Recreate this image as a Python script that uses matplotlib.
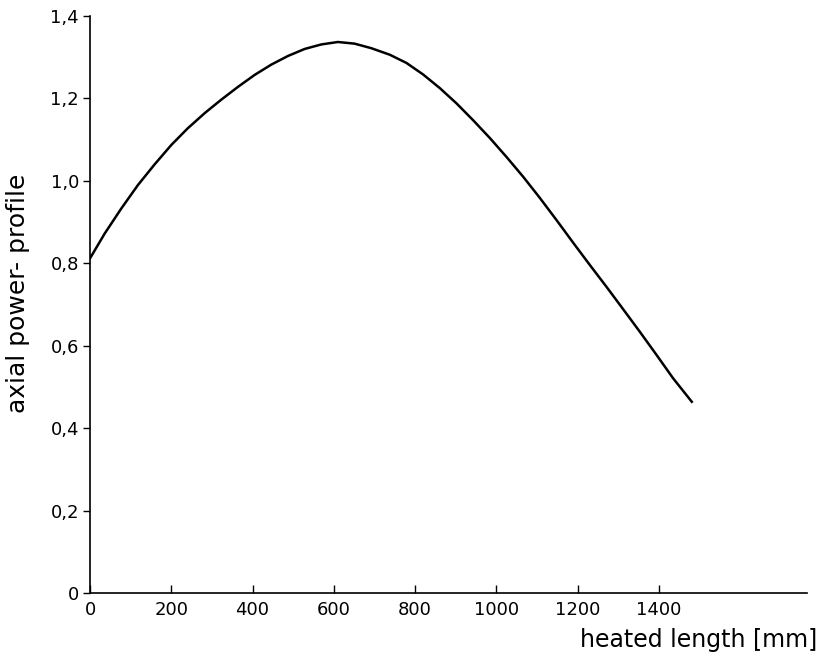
import numpy as np
import matplotlib.pyplot as plt

# values
length_mm = [0, 36, 77, 118, 159, 200, 241, 283, 323, 364, 405, 446, 487,
             528, 569, 610, 651, 692, 738, 779, 820, 861, 902, 943, 984,
             1025, 1066, 1106, 1148, 1189, 1230, 1271, 1311, 1353, 1394,
             1435, 1481]
power = [0.812, 0.872, 0.933, 0.990, 1.040, 1.087, 1.128, 1.165, 1.197,
         1.228, 1.257, 1.282, 1.303, 1.320, 1.331, 1.337, 1.333, 1.322,
         1.306, 1.286, 1.258, 1.225, 1.188, 1.147, 1.104, 1.058, 1.010,
         0.960, 0.905, 0.850, 0.796, 0.743, 0.690, 0.634, 0.578, 0.521,
         0.464]

xticks = [0, 200, 400, 600, 800, 1000, 1200, 1400]
yticks = [0, 0.2, 0.4, 0.6, 0.8, 1.0, 1.2, 1.4]
ytick_labels = ['0', '0,2', '0,4', '0,6', '0,8', '1,0', '1,2', '1,4']

fig = plt.figure(figsize=(8.22, 6.62), dpi=100)
ax = fig.add_axes([0.1095, 0.1042, 0.872, 0.8716])

ax.plot(length_mm, power, color='black', lw=1.8, solid_joinstyle='round')

ax.set_xlim(0, 1764)
ax.set_ylim(0, 1.4)
ax.set_xticks(xticks)
ax.set_yticks(yticks)
ax.set_yticklabels(ytick_labels)

for s in ['top', 'right']:
    ax.spines[s].set_visible(False)
for s in ['left', 'bottom']:
    ax.spines[s].set_linewidth(1.2)

ax.tick_params(axis='x', direction='in', length=6, width=1, labelsize=13, pad=6)
ax.tick_params(axis='y', direction='out', length=5, width=1, labelsize=13, pad=3)

ax.set_ylabel('axial power- profile', fontsize=18)
ax.yaxis.set_label_coords(-0.084, 0.52)
fig.text(0.994, 0.033, 'heated length [mm]', fontsize=17, ha='right', va='center')

fig.savefig('out.png', dpi=100)
